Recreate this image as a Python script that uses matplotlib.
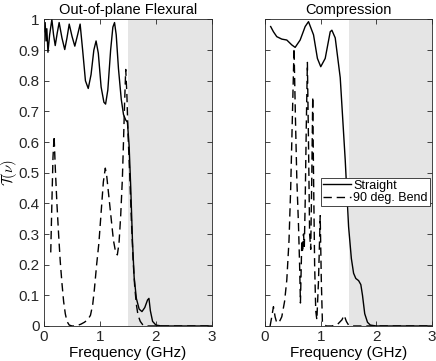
import matplotlib
matplotlib.use("Agg")
import matplotlib.pyplot as plt
from matplotlib.ticker import FuncFormatter

plt.rcParams["font.family"] = ["Liberation Sans", "DejaVu Sans"]
plt.rcParams["mathtext.fontset"] = "cm"

# Out-of-plane flexural: straight guide
flex_straight_f = [0.00, 0.02, 0.035, 0.05, 0.07, 0.10, 0.14, 0.17, 0.20, 0.235, 0.27, 0.32, 0.37, 0.41,
                   0.45, 0.50, 0.55, 0.60, 0.645, 0.69, 0.74, 0.79, 0.84, 0.89, 0.93, 0.97, 1.02, 1.07,
                   1.10, 1.14, 1.19, 1.23, 1.26, 1.29, 1.33, 1.38, 1.42, 1.46, 1.49, 1.52, 1.55, 1.58,
                   1.61, 1.65, 1.70, 1.75, 1.80, 1.85, 1.875, 1.90, 1.94, 2.00, 2.10, 3.00]
flex_straight_t = [0.96, 0.99, 0.93, 0.97, 0.893, 0.95, 1.00, 0.95, 0.915, 0.955, 0.99, 0.94, 0.902, 0.94,
                   0.985, 0.945, 0.913, 0.95, 0.985, 0.90, 0.80, 0.775, 0.82, 0.90, 0.93, 0.89, 0.78, 0.73,
                   0.724, 0.77, 0.90, 0.975, 0.99, 0.95, 0.84, 0.74, 0.69, 0.672, 0.665, 0.59, 0.45, 0.28,
                   0.16, 0.09, 0.055, 0.047, 0.06, 0.085, 0.09, 0.05, 0.015, 0.003, 0.0, 0.0]

# Out-of-plane flexural: 90 deg. bend
flex_bend_f = [0.12, 0.14, 0.16, 0.18, 0.20, 0.23, 0.26, 0.29, 0.32, 0.35, 0.38, 0.41, 0.45, 0.50,
               0.55, 0.60, 0.66, 0.72, 0.78, 0.83, 0.87, 0.90, 0.94, 0.98, 1.02, 1.06, 1.095, 1.12,
               1.16, 1.20, 1.24, 1.28, 1.31, 1.34, 1.37, 1.40, 1.42, 1.44, 1.46, 1.48, 1.50, 1.53,
               1.56, 1.59, 1.62, 1.65, 1.68, 1.72, 1.76, 1.80, 3.00]
flex_bend_t = [0.24, 0.40, 0.55, 0.62, 0.52, 0.40, 0.30, 0.21, 0.14, 0.08, 0.04, 0.015, 0.003, 0.0,
               0.0, 0.002, 0.006, 0.012, 0.02, 0.035, 0.07, 0.12, 0.20, 0.27, 0.37, 0.47, 0.515, 0.49,
               0.42, 0.35, 0.28, 0.24, 0.232, 0.27, 0.36, 0.48, 0.60, 0.73, 0.837, 0.76, 0.63, 0.50,
               0.35, 0.22, 0.13, 0.07, 0.035, 0.015, 0.005, 0.0, 0.0]

# Compression: straight guide
comp_straight_f = [0.10, 0.15, 0.21, 0.30, 0.39, 0.48, 0.54, 0.63, 0.72, 0.78, 0.87, 0.94, 1.00, 1.08,
                   1.17, 1.20, 1.26, 1.35, 1.44, 1.50, 1.55, 1.59, 1.63, 1.68, 1.72, 1.75, 1.79, 1.84,
                   1.89, 2.00, 3.00]
comp_straight_t = [0.977, 0.96, 0.944, 0.936, 0.933, 0.917, 0.909, 0.933, 0.977, 0.993, 0.95, 0.873, 0.846, 0.873,
                   0.96, 0.965, 0.94, 0.81, 0.54, 0.324, 0.22, 0.172, 0.155, 0.148, 0.135, 0.10, 0.04, 0.012,
                   0.003, 0.0, 0.0]

# Compression: 90 deg. bend
comp_bend_f = [0.09, 0.12, 0.15, 0.18, 0.21, 0.26, 0.30, 0.35, 0.39, 0.43, 0.46, 0.49, 0.52, 0.545,
               0.57, 0.60, 0.62, 0.635, 0.65, 0.66, 0.675, 0.69, 0.705, 0.72, 0.74, 0.76, 0.78, 0.80,
               0.82, 0.84, 0.856, 0.87, 0.89, 0.91, 0.93, 0.96, 0.99, 1.01, 1.03, 1.10, 1.20, 1.30,
               1.38, 1.42, 1.46, 1.50, 1.60, 3.00]
comp_bend_t = [0.0, 0.03, 0.063, 0.03, 0.01, 0.015, 0.03, 0.08, 0.15, 0.28, 0.45, 0.68, 0.906, 0.68,
               0.48, 0.33, 0.20, 0.075, 0.20, 0.28, 0.24, 0.30, 0.26, 0.40, 0.65, 0.86, 0.60, 0.30,
               0.25, 0.50, 0.748, 0.50, 0.20, 0.05, 0.02, 0.15, 0.36, 0.15, 0.01, 0.0, 0.0, 0.005,
               0.02, 0.035, 0.015, 0.003, 0.0, 0.0]

titles = ["Out-of-plane Flexural", "Compression"]
x_ticks = [0, 1, 2, 3]
y_ticks = [0, 0.1, 0.2, 0.3, 0.4, 0.5, 0.6, 0.7, 0.8, 0.9, 1]
cutoff = 1.5

fig = plt.figure(figsize=(4.36, 3.61), dpi=100)
ax1 = fig.add_axes([0.101, 0.097, 0.385, 0.849])
ax2 = fig.add_axes([0.608, 0.097, 0.383, 0.849])

data = [(flex_straight_f, flex_straight_t, flex_bend_f, flex_bend_t),
        (comp_straight_f, comp_straight_t, comp_bend_f, comp_bend_t)]

for ax, title, (fs, ts, fb, tb) in zip([ax1, ax2], titles, data):
    ax.axvspan(cutoff, 3, color="#e5e5e5", lw=0, zorder=0)
    ax.plot(fs, ts, "-", color="black", lw=1.0, label="Straight")
    ax.plot(fb, tb, "--", color="black", lw=1.0, dashes=(6, 3.5), label="90 deg. Bend")
    ax.set_xlim(0, 3)
    ax.set_ylim(0, 1)
    ax.set_xticks(x_ticks)
    ax.set_yticks(y_ticks)
    ax.set_title(title, fontsize=10.5, pad=4)
    ax.set_xlabel("Frequency (GHz)", fontsize=11, labelpad=1)
    ax.tick_params(direction="in", top=True, right=True, length=3.5, width=0.6,
                   labelsize=11, colors="#262626", pad=3)
    for s in ax.spines.values():
        s.set_color("#262626")
        s.set_linewidth(0.6)

ax1.yaxis.set_major_formatter(FuncFormatter(lambda v, p: "%g" % v))
ax1.set_ylabel(r"$\mathcal{T}(\nu)$", fontsize=10.5)
ax1.yaxis.set_label_coords(-0.15, 0.5)
ax2.set_yticklabels([])

leg = ax2.legend(loc="center right", bbox_to_anchor=(0.985, 0.437), fontsize=9,
                 handlelength=2.2, handletextpad=0.2, borderpad=0.15, labelspacing=0.05,
                 borderaxespad=0, fancybox=False, framealpha=1, edgecolor="#262626")
leg.get_frame().set_linewidth(0.6)

fig.savefig("out.png", dpi=100)
